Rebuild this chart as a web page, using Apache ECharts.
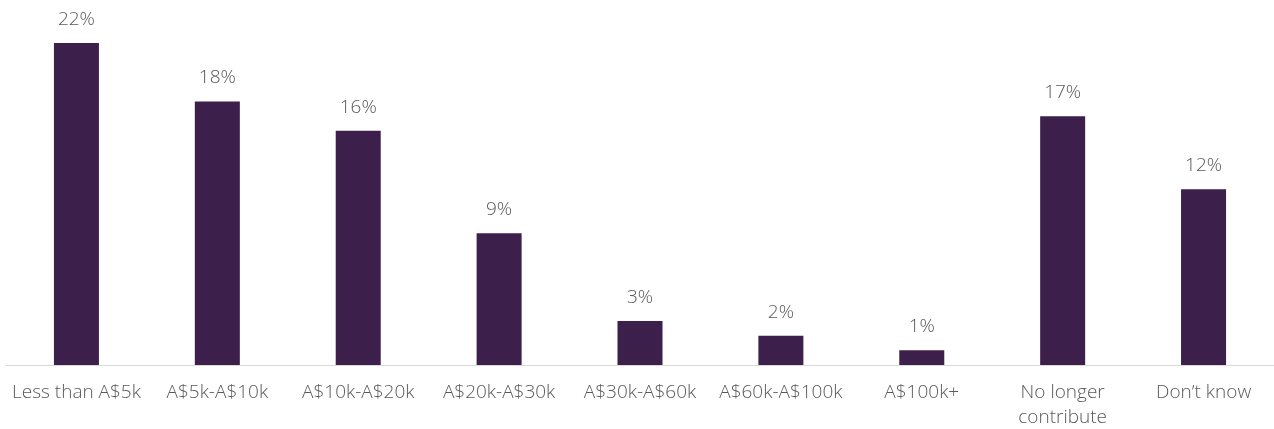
<!DOCTYPE html>
<html>
<head>
<meta charset="utf-8">
<script src="https://cdn.jsdelivr.net/npm/echarts@6/dist/echarts.min.js"></script>
<style>
  html, body { margin: 0; padding: 0; background: #ffffff; }
  #chart { width: 1274px; height: 429px; }
</style>
</head>
<body>
<div id="chart"></div>
<script>
// Annual contribution bands and share of respondents (%)
const categories = [
  'Less than A$5k', 'A$5k-A$10k', 'A$10k-A$20k', 'A$20k-A$30k',
  'A$30k-A$60k', 'A$60k-A$100k', 'A$100k+', 'No longer\ncontribute', 'Don\u2019t know'
];
const shares = [22, 18, 16, 9, 3, 2, 1, 17, 12];

const barColor = '#3c1f4a';
const textColor = '#595959';
const fontFamily = '"Open Sans", "Noto Sans", sans-serif';

const chart = echarts.init(document.getElementById('chart'), null, { renderer: 'canvas' });
chart.setOption({
  animation: false,
  grid: {
    left: 6, right: 0, top: 43, bottom: 64,
    containLabel: false, outerBoundsMode: 'none'
  },
  xAxis: {
    type: 'category',
    data: categories,
    axisLine: { show: true, lineStyle: { color: '#d9d9d9', width: 1 } },
    axisTick: { show: false },
    axisLabel: {
      color: textColor, fontFamily: fontFamily, fontSize: 19, fontWeight: 300,
      margin: 15, lineHeight: 25, interval: 0
    }
  },
  yAxis: {
    type: 'value', min: 0, max: 22,
    show: false,
    splitLine: { show: false }
  },
  series: [{
    type: 'bar',
    data: shares,
    barWidth: 45,
    itemStyle: { color: barColor },
    label: {
      show: true, position: 'top', distance: 14,
      formatter: '{c}%',
      color: textColor, fontFamily: fontFamily, fontSize: 19, fontWeight: 300
    }
  }]
});
</script>
</body>
</html>
